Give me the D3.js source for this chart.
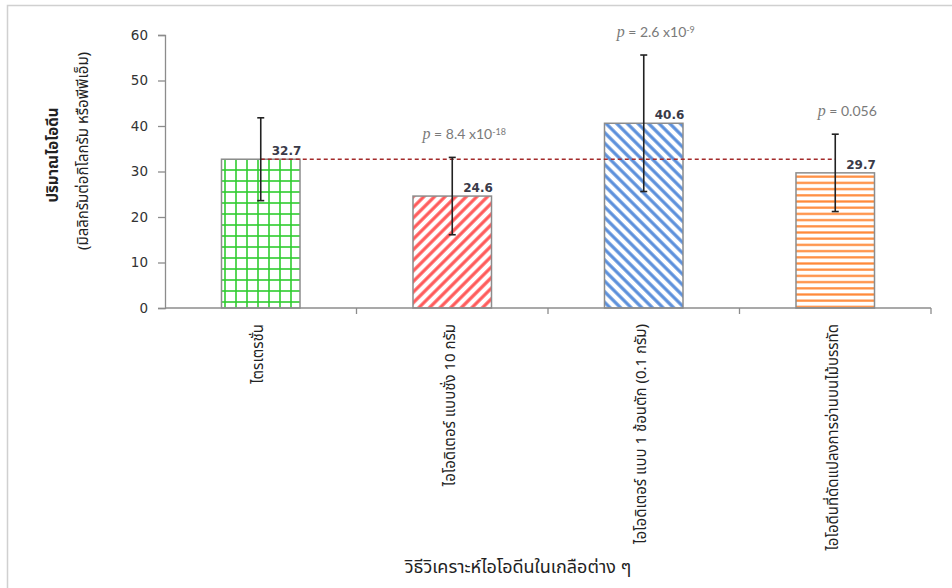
<!DOCTYPE html>
<html>
<head>
<meta charset="utf-8">
<script src="https://cdn.jsdelivr.net/npm/d3@7"></script>
<style>
  body { margin: 0; background: #fff; }
  svg { display: block; }
</style>
</head>
<body>
<script>
// data
const categories = ['ไตรเตรชั่น', 'ไอโอดิเตอร์ แบบชั่ง 10 กรัม', 'ไอโอดิเตอร์ แบบ 1 ช้อนตัก (0.1 กรัม)', 'ไอโอดีนที่ดัดแปลงการอ่านบนไม้บรรทัด'];
const means = [32.7, 24.6, 40.6, 29.7];
const errors = [9.1, 8.5, 15.0, 8.5];
const pBase = [null, '8.4', '2.6', '0.056'];
const pExp = [null, '-18', '-9', null];
const yTicks = [0, 10, 20, 30, 40, 50, 60];

const thai = "Tahoma, 'Noto Sans Thai', 'Noto Sans', 'DejaVu Sans', sans-serif";
const width = 952, height = 588;
const margin = {top: 35, right: 21, bottom: 280, left: 165};

const data = categories.map((c, i) => ({cat: c, mean: means[i], err: errors[i], p: pBase[i], e: pExp[i], i: i}));

const svg = d3.select('body').append('svg')
  .attr('width', width)
  .attr('height', height);

// frame
svg.append('rect')
  .attr('x', 7.5).attr('y', 5.5)
  .attr('width', 960).attr('height', 600)
  .attr('fill', 'none')
  .attr('stroke', '#d0d0d0')
  .attr('stroke-width', 1.5);

// fill patterns
const defs = svg.append('defs');
const grid = defs.append('pattern').attr('id', 'pat0')
  .attr('patternUnits', 'userSpaceOnUse').attr('width', 11).attr('height', 11);
grid.append('rect').attr('width', 11).attr('height', 11).attr('fill', '#fff');
grid.append('line').attr('x1', 5).attr('x2', 5).attr('y1', 0).attr('y2', 11).attr('stroke', '#2ecc2e').attr('stroke-width', 1.6);
grid.append('line').attr('y1', 5).attr('y2', 5).attr('x1', 0).attr('x2', 11).attr('stroke', '#2ecc2e').attr('stroke-width', 1.6);

function stripes(id, color, angle, size, lw) {
  const p = defs.append('pattern').attr('id', id)
    .attr('patternUnits', 'userSpaceOnUse')
    .attr('width', size).attr('height', size)
    .attr('patternTransform', `rotate(${angle})`);
  p.append('rect').attr('width', size).attr('height', size).attr('fill', '#fff');
  p.append('line').attr('x1', size / 2).attr('x2', size / 2).attr('y1', 0).attr('y2', size)
    .attr('stroke', color).attr('stroke-width', lw);
}
stripes('pat1', '#ff5a5a', 45, 7.5, 3.2);
stripes('pat2', '#5b8fdb', -45, 7.5, 3.2);
stripes('pat3', '#ff8a3a', 90, 6.2, 2.2);

// scales
const yScale = d3.scaleLinear()
  .domain([0, 60])
  .range([height - margin.bottom, margin.top]);

const xScale = d3.scaleBand()
  .domain(categories)
  .range([margin.left, width - margin.right])
  .paddingInner(0.59)
  .paddingOuter(0.295);

const cx = d => xScale(d.cat) + xScale.bandwidth() / 2;

// y axis
const yAxis = d3.axisLeft(yScale).tickValues(yTicks).tickSizeOuter(0).tickSize(7).tickPadding(10);
const gy = svg.append('g')
  .attr('transform', `translate(${margin.left},0)`)
  .call(yAxis);
gy.select('.domain').attr('stroke', '#8c8c8c').attr('stroke-width', 1.3);
gy.selectAll('.tick line').attr('stroke', '#8c8c8c').attr('stroke-width', 1.3);
gy.selectAll('.tick text')
  .style('font-family', "'DejaVu Sans', sans-serif")
  .style('font-size', '13.5px')
  .attr('fill', '#333');

// bars
svg.append('g')
  .selectAll('rect')
  .data(data)
  .join('rect')
  .attr('x', d => xScale(d.cat))
  .attr('y', d => yScale(d.mean))
  .attr('width', xScale.bandwidth())
  .attr('height', d => yScale(0) - yScale(d.mean))
  .attr('fill', d => `url(#pat${d.i})`)
  .attr('stroke', '#8c8c8c')
  .attr('stroke-width', 1.5);

// x axis
const xAxisY = yScale(0);
const gx = svg.append('g').attr('transform', `translate(0,${xAxisY})`);
gx.append('line')
  .attr('x1', margin.left).attr('x2', width - margin.right)
  .attr('stroke', '#8c8c8c').attr('stroke-width', 1.3);
const bounds = d3.range(1, categories.length + 1).map(k => margin.left + k * xScale.step());
gx.selectAll('.bt')
  .data(bounds)
  .join('line')
  .attr('x1', d => d).attr('x2', d => d)
  .attr('y1', 0).attr('y2', 6)
  .attr('stroke', '#8c8c8c').attr('stroke-width', 1.3);

// category labels, rotated
gx.selectAll('.cat')
  .data(data)
  .join('text')
  .attr('transform', d => `translate(${cx(d) - 3},16) rotate(-90)`)
  .attr('text-anchor', 'end')
  .attr('dy', '0.35em')
  .style('font-family', thai)
  .style('font-size', '15px')
  .attr('fill', '#222')
  .text(d => d.cat);

// reference line at the titration mean
svg.append('line')
  .attr('x1', cx(data[0]))
  .attr('x2', cx(data[data.length - 1]))
  .attr('y1', yScale(means[0]))
  .attr('y2', yScale(means[0]))
  .attr('stroke', '#a32a2a')
  .attr('stroke-width', 1.5)
  .attr('stroke-dasharray', '4,3');

// error bars
const eb = svg.append('g').attr('stroke', '#222').attr('stroke-width', 1.6);
eb.selectAll('.v').data(data).join('line')
  .attr('x1', cx).attr('x2', cx)
  .attr('y1', d => yScale(d.mean + d.err))
  .attr('y2', d => yScale(d.mean - d.err));
eb.selectAll('.t').data(data).join('line')
  .attr('x1', d => cx(d) - 3.5).attr('x2', d => cx(d) + 3.5)
  .attr('y1', d => yScale(d.mean + d.err))
  .attr('y2', d => yScale(d.mean + d.err));
eb.selectAll('.b').data(data).join('line')
  .attr('x1', d => cx(d) - 3.5).attr('x2', d => cx(d) + 3.5)
  .attr('y1', d => yScale(d.mean - d.err))
  .attr('y2', d => yScale(d.mean - d.err));

// value labels
svg.append('g')
  .selectAll('text')
  .data(data)
  .join('text')
  .attr('x', d => cx(d) + 11)
  .attr('y', d => yScale(d.mean) - 4)
  .style('font-family', "'DejaVu Sans', sans-serif")
  .style('font-size', '12px')
  .style('font-weight', 'bold')
  .attr('fill', '#3a3a48')
  .text(d => d.mean.toFixed(1));

// p-values above error bars
const pt = svg.append('g')
  .selectAll('text')
  .data(data.filter(d => d.p))
  .join('text')
  .attr('x', d => cx(d) + 12)
  .attr('y', d => yScale(d.mean + d.err) - 18)
  .attr('text-anchor', 'middle')
  .style('font-family', "Lato, 'Open Sans', sans-serif")
  .style('font-size', '14px')
  .attr('fill', '#7a7a7a');
pt.append('tspan').style('font-style', 'italic').style('font-family', "'Liberation Serif', serif").style('font-size', '16px').text('p');
pt.append('tspan').text(d => ' = ' + d.p + (d.e ? ' x10' : ''));
pt.filter(d => d.e).append('tspan')
  .attr('dy', '-0.5em')
  .style('font-size', '9px')
  .text(d => d.e);

// axis titles
svg.append('text')
  .attr('transform', 'translate(58,155) rotate(-90)')
  .attr('text-anchor', 'middle')
  .style('font-family', thai)
  .style('font-size', '15px')
  .style('font-weight', 'bold')
  .attr('fill', '#222')
  .text('ปริมาณไอโอดีน');

svg.append('text')
  .attr('transform', 'translate(88,151) rotate(-90)')
  .attr('text-anchor', 'middle')
  .style('font-family', thai)
  .style('font-size', '15px')
  .attr('fill', '#222')
  .text('(มิลลิกรัมต่อกิโลกรัม  หรือพีพีเอ็ม)');

svg.append('text')
  .attr('x', 518)
  .attr('y', 573)
  .attr('text-anchor', 'middle')
  .style('font-family', thai)
  .style('font-size', '18px')
  .attr('fill', '#222')
  .text('วิธีวิเคราะห์ไอโอดีนในเกลือต่าง ๆ');
</script>
</body>
</html>
